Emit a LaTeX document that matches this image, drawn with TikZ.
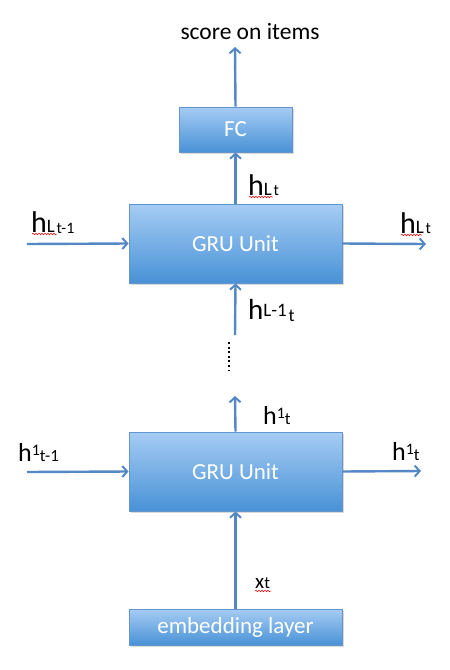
\documentclass[tikz,border=0pt]{standalone}
\usepackage{fontspec}
\setmainfont{Carlito}
\usetikzlibrary{arrows.meta,shadows,decorations.pathmorphing}
\definecolor{arrowblue}{RGB}{84,136,196}
\definecolor{boxtop}{RGB}{166,204,244}
\definecolor{boxbot}{RGB}{72,146,214}
\definecolor{boxedge}{RGB}{100,150,205}
\newcommand{\hbig}[1]{{\fontsize{#1}{#1}\selectfont h}}
\newcommand{\sz}[2]{{\fontsize{#1}{#1}\selectfont #2}}
\tikzset{
  unitbox/.style={draw=boxedge, line width=0.8pt, top color=boxtop, bottom color=boxbot,
    text=white, font=\fontsize{23}{23}\selectfont, anchor=center,
    drop shadow={shadow xshift=1.5pt, shadow yshift=-2pt, opacity=0.3}},
  conn/.style={draw=arrowblue, line width=2.4pt, -{Straight Barb[length=5pt,width=11pt,line width=2pt]}},
  lab/.style={inner sep=0pt, anchor=base west, text=black},
  wavy/.style={draw=red, line width=0.5pt, decorate, decoration={snake, amplitude=0.8pt, segment length=3pt}}
}
\begin{document}
\begin{tikzpicture}[x=1pt, y=-1pt]
\useasboundingbox (0,0) rectangle (450,670);
% boxes
\node[unitbox, minimum width=113pt, minimum height=45pt] (fc) at (235.5,129.5) {FC};
\node[unitbox, minimum width=213pt, minimum height=79pt] (gruL) at (235.5,243.5) {GRU Unit};
\node[unitbox, minimum width=213pt, minimum height=79pt] (gru1) at (235.5,471.5) {GRU Unit};
\node[unitbox, minimum width=213pt, minimum height=36pt] (emb) at (235.5,627) {embedding layer};
% free ends
\coordinate (top) at (235,47);
\coordinate (inL) at (27,244);
\coordinate (outL) at (426,244);
\coordinate (in1) at (27,472);
\coordinate (out1) at (421,471);
\coordinate (midstart) at (235,335);
\coordinate (midtip) at (235,396);
\coordinate (dotA) at (229,342);
\coordinate (dotB) at (229,370);
% title
\node[lab, anchor=base] (title) at (250,39) {\sz{23.5}{score on items}};
% connectors
\draw[conn] (fc.north) -- (top);
\draw[conn] (gruL.north) -- (fc.south);
\draw[conn] (inL) -- (gruL.west);
\draw[conn] (gruL.east) -- (outL);
\draw[conn] (midstart) -- (gruL.south);
\draw[conn] (gru1.north) -- (midtip);
\draw[conn] (in1) -- (gru1.west);
\draw[conn] (gru1.east) -- (out1);
\draw[conn] (emb.north) -- (gru1.south);
\draw[black, line width=2.2pt, dash pattern=on 2pt off 2.6pt] (dotA) -- (dotB);
% labels upper
\node[lab] (lhLin) at (31,232) {\hbig{30}\sz{19}{L}\,\raisebox{-1pt}{\sz{16}{t-1}}};
\node[lab] (lhLout) at (400,233) {\hbig{30}\sz{19}{L}\,\sz{16}{t}};
\node[lab] (lhLup) at (248,195) {\hbig{30}\sz{19}{L}\,\sz{16}{t}};
\node[lab] (lhLm) at (248,319) {\hbig{29}\raisebox{3pt}{\sz{19}{L-1}}\,\raisebox{-2pt}{\sz{18}{t}}};
% labels lower
\node[lab] (lh1up) at (263,424) {\hbig{26}\raisebox{6pt}{\sz{16}{1}}\sz{17}{t}};
\node[lab] (lh1in) at (18,461) {\hbig{26}\raisebox{6pt}{\sz{16}{1}}\sz{17}{t-1}};
\node[lab] (lh1out) at (392,460) {\hbig{26}\raisebox{6pt}{\sz{16}{1}}\sz{17}{t}};
\node[lab] (lx) at (255,588) {\sz{21}{x}\sz{17}{t}};
% spell-check squiggles
\draw[wavy] (32,234) -- (57,234);
\draw[wavy] (401,235) -- (422,235);
\draw[wavy] (249,197) -- (273,197);
\draw[wavy] (255,591) -- (271,591);
\end{tikzpicture}
\end{document}
